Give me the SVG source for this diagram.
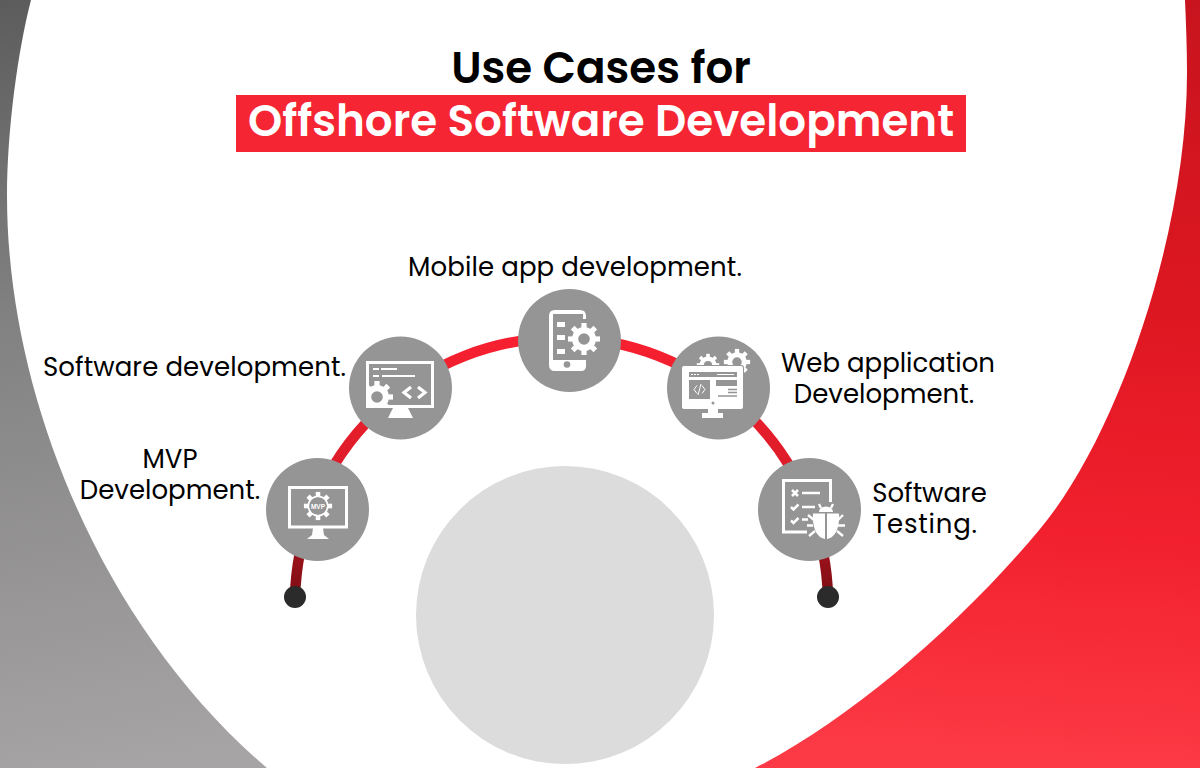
<svg xmlns="http://www.w3.org/2000/svg" xmlns:xlink="http://www.w3.org/1999/xlink" width="1200" height="768" viewBox="0 0 1200 768">
<defs>
<linearGradient id="gGray" gradientUnits="userSpaceOnUse" x1="0" y1="0" x2="130" y2="768"><stop offset="0" stop-color="#5c5c5c"/><stop offset="0.4" stop-color="#828181"/><stop offset="1" stop-color="#a6a4a5"/></linearGradient>
<linearGradient id="gRed" gradientUnits="userSpaceOnUse" x1="1180" y1="0" x2="1130" y2="768"><stop offset="0" stop-color="#c8141e"/><stop offset="0.4" stop-color="#dd1721"/><stop offset="0.7" stop-color="#f2202e"/><stop offset="1" stop-color="#fc3a45"/></linearGradient>
<linearGradient id="gArc" gradientUnits="userSpaceOnUse" x1="0" y1="336" x2="0" y2="597"><stop offset="0" stop-color="#f82030"/><stop offset="0.5" stop-color="#dd1c29"/><stop offset="1" stop-color="#7c0d14"/></linearGradient>
<clipPath id="monClip"><rect x="368" y="363" width="64" height="43"/></clipPath>
<g id="gear">
<circle r="12" fill="#fff"/>
<g fill="#fff">
<rect x="-2.600" y="-16" width="5.200" height="32"/>
<rect x="-2.600" y="-16" width="5.200" height="32" transform="rotate(45)"/>
<rect x="-2.600" y="-16" width="5.200" height="32" transform="rotate(90)"/>
<rect x="-2.600" y="-16" width="5.200" height="32" transform="rotate(135)"/>
</g>
<circle r="5.800" fill="#959595"/>
</g>
<style>
.t{font-family:"Poppins","Noto Sans","Liberation Sans",Arial,sans-serif;font-size:26px;fill:#000;text-anchor:middle}
.h{font-family:"Poppins","Noto Sans","Liberation Sans",Arial,sans-serif;font-weight:600;font-size:43.600px;text-anchor:middle}
.d{fill:#959595}.w{fill:#fff}.ws{fill:none;stroke:#fff;stroke-width:3}
</style>
</defs>
<rect width="1200" height="768" fill="#fff"/>
<path d="M0 0H31C18 50 7 130 7 196C7 400 105 630 267 768H0Z" fill="url(#gGray)"/>
<path d="M755 768C850 720 960 625 1040 529C1120 433 1187 230 1187 73C1187 48 1186 24 1185 0H1200V768Z" fill="url(#gRed)"/>
<circle cx="565" cy="615" r="149" fill="#dcdcdc"/>
<g id="title">
<text class="h" x="601" y="83" fill="#000">Use Cases for</text>
<rect x="236" y="95" width="730" height="57" fill="#f52533"/>
<text class="h" x="601" y="136" fill="#fff">Offshore Software Development</text>
</g>
<g id="connectors">
<path d="M295 597A266.600 266.600 0 0 1 828 597" fill="none" stroke="url(#gArc)" stroke-width="10.500"/>
<circle cx="295" cy="597" r="11" fill="#2b2b2b"/>
<circle cx="828" cy="597" r="11" fill="#2b2b2b"/>
</g>
<g id="node-mvp">
<circle class="d" cx="317.500" cy="509.500" r="51.500"/>
<rect class="ws" x="289.500" y="487.500" width="57" height="39.500"/>
<path class="w" d="M313 528h10l1 7 5 4h-22l5-4z"/>
<use xlink:href="#gear" href="#gear" transform="translate(318 506) scale(.88)"/>
<circle cx="318" cy="506" r="9" class="d"/>
<circle cx="318" cy="506" r="9.500" fill="none" stroke="#fff" stroke-width="1"/>
<text x="318" y="508.500" font-family="Liberation Sans,sans-serif" font-size="6.500" font-weight="700" fill="#fff" text-anchor="middle">MVP</text>
<text class="t" x="170" y="468">MVP<tspan x="170" dy="31">Development.</tspan></text>
</g>
<g id="node-software">
<circle class="d" cx="400.500" cy="388" r="51.500"/>
<rect class="ws" x="367.500" y="362.500" width="65" height="44"/>
<path class="w" d="M393 408h15l5 10h-25z"/>
<path class="w" d="M373 368h6v2h-6zM381 368h16v2h-16zM373 375h6v2h-6zM382 375h33v2h-33z"/>
<g clip-path="url(#monClip)"><use xlink:href="#gear" href="#gear" transform="translate(377 397)"/></g>
<path d="M411 387l-7 5.500 7 5.500M418 387l7 5.500-7 5.500" fill="none" stroke="#fff" stroke-width="3.200"/>
<text class="t" x="194.500" y="376" letter-spacing=".1">Software development.</text>
</g>
<g id="node-mobile">
<circle class="d" cx="569.500" cy="340.500" r="51.500"/>
<path class="w" d="M555 310H580Q586 310 586 316V319H583V314H553V360H586V366Q586 371 581 371H555Q549 371 549 365V316Q549 310 555 310Z"/>
<path class="w" d="M557 322h8v5h-8zM557 335h8v5h-8zM557 349h8v5h-8z"/>
<circle cx="567" cy="364.500" r="3.300" class="d"/>
<use xlink:href="#gear" href="#gear" transform="translate(584 339)"/>
<text class="t" x="575" y="276" letter-spacing=".1">Mobile app development.</text>
</g>
<g id="node-web">
<circle class="d" cx="718.500" cy="388" r="51.500"/>
<use xlink:href="#gear" href="#gear" transform="translate(708 365) scale(.7)"/>
<use xlink:href="#gear" href="#gear" transform="translate(737 362) scale(.82)"/>
<rect class="w" x="682" y="366" width="61" height="43" rx="2" stroke="#959595" stroke-width="2" paint-order="stroke"/>
<rect class="d" x="689" y="372" width="48" height="5"/>
<rect class="d" x="689" y="380" width="21" height="19"/>
<rect class="d" x="716" y="380" width="21" height="6"/>
<path class="w" d="M691 374h2v1h-2zM694 374h2v1h-2zM697 374h2v1h-2zM717 374h17v1h-17z"/>
<path fill="none" stroke="#fff" stroke-width="1" d="M697 385.500l-3 4 3 4M702 385.500l3 4-3 4M701 384l-3 11"/>
<path d="M728 389.500h9M728 392.500h9M718 396h19" stroke="#959595" stroke-width="1.500"/>
<circle cx="713" cy="403" r="1.500" class="d"/>
<path class="w" d="M708 409h10v4h5v5h-21v-5h6z"/>
<text class="t" x="888" y="372">Web application<tspan x="884" dy="31">Development.</tspan></text>
</g>
<g id="node-testing">
<circle class="d" cx="809.500" cy="509.500" r="51.500"/>
<path class="ws" d="M830.500 502V480.500H783.500V532H807"/>
<path d="M792 490l6 6M798 490l-6 6" stroke="#fff" stroke-width="2.500"/>
<path d="M802 493h18M802 507h13M802 519.500h6" stroke="#fff" stroke-width="2.500"/>
<path d="M791 507l2.500 2.500 5-5M791 520.500l2.500 2.500 5-5" fill="none" stroke="#fff" stroke-width="2.500"/>
<path class="w" d="M819 512a7 5.500 0 0 1 14 0zM813 513.500H825V539C818 538 812 530 813 513.500ZM827 513.500H839C840 530 834 538 827 539Z"/>
<path d="M821 508l-2-4M831 508l2-4M814 520l-6-5M813 525.500h-6M815 531l-6 5M838 520l5-5M838 525.500h7M837 531l6 5" stroke="#fff" stroke-width="2.300"/>
<text class="t" x="929.500" y="502">Software<tspan x="925" dy="31" letter-spacing=".8">Testing.</tspan></text>
</g>
</svg>
